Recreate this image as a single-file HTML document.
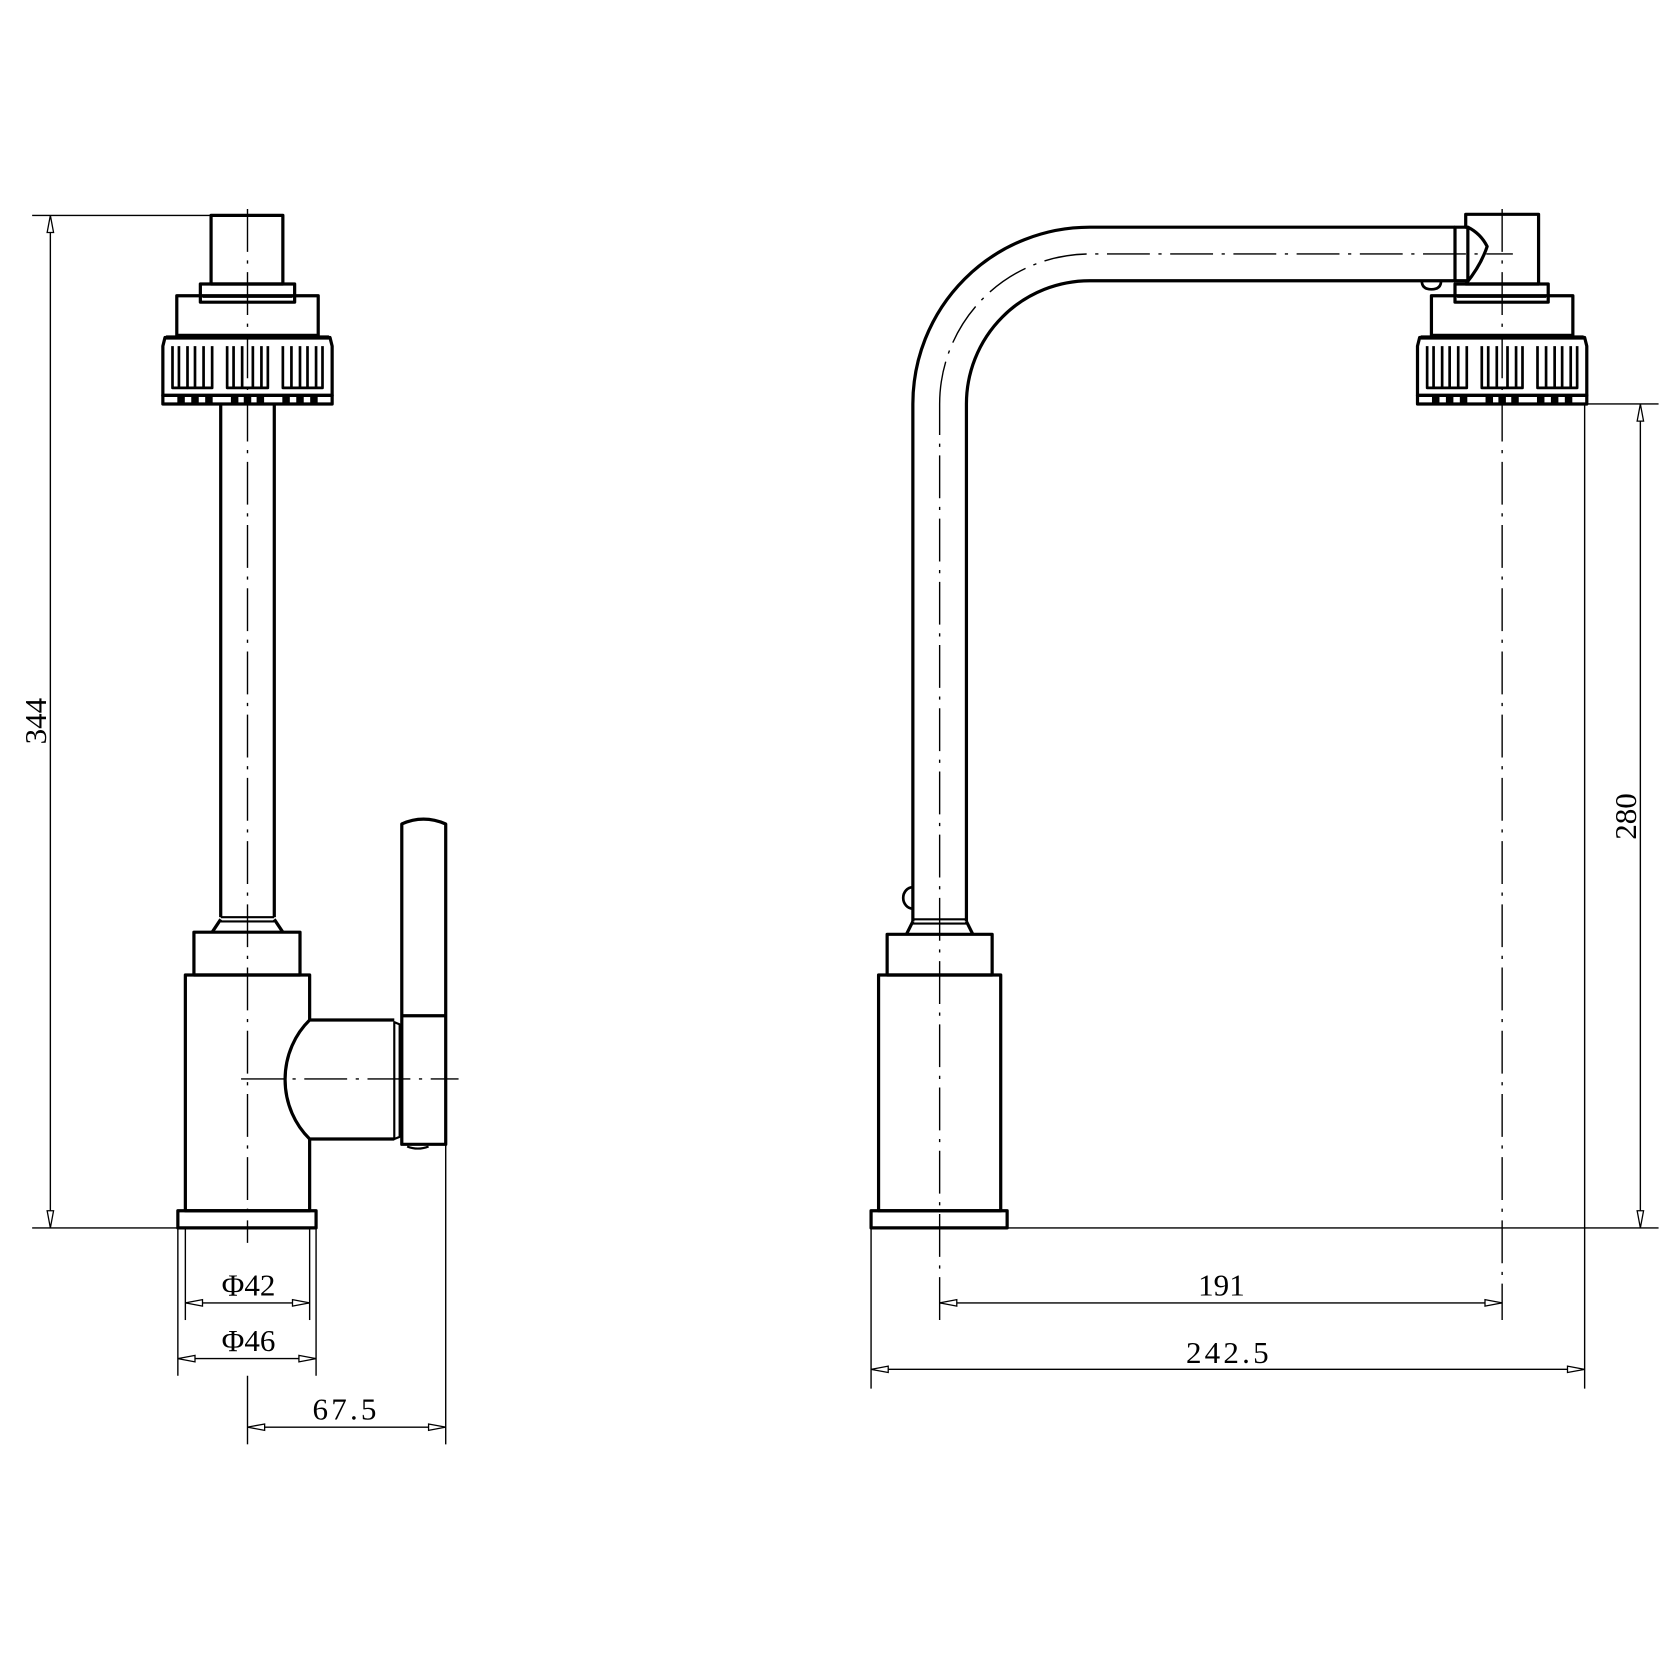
<!DOCTYPE html>
<html><head><meta charset="utf-8"><style>html,body{margin:0;padding:0;background:#fff}svg{display:block}</style></head>
<body>
<svg width="1680" height="1679" viewBox="0 0 1568 1567" xmlns="http://www.w3.org/2000/svg">
<defs>
<g id="nut">
 <path d="M-66,-94 L66,-94 L66,-57 L-66,-57 Z" fill="none" stroke="#000" stroke-width="3"/>
 <path d="M-76,-55 L76,-55" stroke="#000" stroke-width="4"/>
 <path d="M-79,-47 L-77,-55 L77,-55 L79,-47 L79,-1 L-79,-1 Z" fill="none" stroke="#000" stroke-width="3"/>
 <rect x="-79" y="-1" width="158" height="8" fill="none" stroke="#000" stroke-width="3"/>
 <g fill="#000"><rect x="-64" y="0" width="4" height="6"/><rect x="-51" y="0" width="4" height="6"/><rect x="-38" y="0" width="4" height="6"/><rect x="-14" y="0" width="4" height="6"/><rect x="-2" y="0" width="4" height="6"/><rect x="10" y="0" width="4" height="6"/><rect x="34" y="0" width="4" height="6"/><rect x="47" y="0" width="4" height="6"/><rect x="60" y="0" width="4" height="6"/></g>
 <g fill="none" stroke="#000" stroke-width="2.5">
  <path d="M-70,-47 V-8 H-33 V-47 M-64,-47 V-8 M-56,-47 V-8 M-49,-47 V-8 M-41,-47 V-8"/>
  <path d="M-19,-47 V-8 H19 V-47 M-13,-47 V-8 M-5,-47 V-8 M5,-47 V-8 M13,-47 V-8"/>
  <path d="M33,-47 V-8 H70 V-47 M41,-47 V-8 M49,-47 V-8 M56,-47 V-8 M64,-47 V-8"/>
 </g>
</g>
</defs>
<g fill="none" stroke="#000" stroke-width="3" stroke-linejoin="round">
 <!-- LEFT VIEW -->
 <rect x="197" y="201" width="67" height="64"/>
 <rect x="187" y="265" width="88" height="17"/>
 <line x1="189" y1="277" x2="273" y2="277" stroke-width="2"/>
 <use href="#nut" x="231" y="370"/>
 <path d="M206,377 V856 M256,377 V856"/>
 <path d="M206,856 H256 M206,860 H256" stroke-width="2"/>
 <path d="M206,858 L198,870 M256,858 L264,870"/>
 <rect x="181" y="870" width="99" height="40"/>
 <path d="M289,952 V910 H173 V1130 H289 V1063"/>
 <rect x="166" y="1130" width="129" height="16"/>
 <path d="M368,952 H289 A70,75 0 0 0 289,1063 H368"/>
 <path d="M368,954 L373,956 V1061 L368,1063 Z" stroke-width="2"/>
 <path d="M375,769 Q395,760 416,769 V1068 H375 Z"/>
 <line x1="376" y1="948" x2="416" y2="948"/>
 <path d="M380,1070 Q390,1074 400,1070" stroke-width="2"/>
 <!-- RIGHT VIEW -->
 <rect x="813" y="1130" width="127" height="16"/>
 <rect x="820" y="910" width="114" height="220"/>
 <rect x="828" y="872" width="98" height="38"/>
 <path d="M852,858 H902 M852,862 H902" stroke-width="2"/>
 <path d="M852,860 L846,872 M902,860 L908,872"/>
 <path d="M852,860 V377 A165,165 0 0 1 1017,212 H1358"/>
 <path d="M902,860 V377 A115,115 0 0 1 1017,262 H1358"/>
 <path d="M852,828 A9,10 0 0 0 852,848" stroke-width="2.5"/>
 <rect x="1358" y="212" width="12" height="50"/>
 <path d="M1370,212 H1368 V200 H1436 V265 H1368 Q1382,248 1388,230 Q1382,218 1370,212" />
 <path d="M1327,262 Q1327,270 1336,270 Q1345,270 1345,262" stroke-width="2.5"/>
 <rect x="1358" y="265" width="87" height="17"/>
 <line x1="1360" y1="277" x2="1443" y2="277" stroke-width="2"/>
 <use href="#nut" x="1402" y="370"/>
</g>
<!-- centerlines -->
<g stroke="#000" stroke-width="1.3" fill="none" stroke-dasharray="40,8,3,8">
 <line x1="231" y1="195" x2="231" y2="1160"/>
 <line x1="225" y1="1007" x2="428" y2="1007"/>
 <line x1="877" y1="1232" x2="877" y2="377"/>
 <path d="M877,377 A140,140 0 0 1 1017,237 H1412"/>
 <line x1="1402" y1="195" x2="1402" y2="1232"/>
</g>
<!-- dimension lines -->
<g stroke="#000" stroke-width="1.3" fill="none">
 <line x1="30" y1="201" x2="197" y2="201"/>
 <line x1="30" y1="1146" x2="166" y2="1146"/>
 <line x1="47" y1="201" x2="47" y2="1146"/>
 <line x1="173" y1="1146" x2="173" y2="1232"/>
 <line x1="289" y1="1146" x2="289" y2="1232"/>
 <line x1="166" y1="1146" x2="166" y2="1284"/>
 <line x1="295" y1="1146" x2="295" y2="1284"/>
 <line x1="173" y1="1216" x2="289" y2="1216"/>
 <line x1="166" y1="1268" x2="295" y2="1268"/>
 <line x1="231" y1="1284" x2="231" y2="1348"/>
 <line x1="416" y1="1068" x2="416" y2="1348"/>
 <line x1="231" y1="1332" x2="416" y2="1332"/>
 <line x1="940" y1="1146" x2="1548" y2="1146"/>
 <line x1="1479" y1="377" x2="1548" y2="377"/>
 <line x1="1531" y1="377" x2="1531" y2="1146"/>
 <line x1="877" y1="1216" x2="1402" y2="1216"/>
 <line x1="813" y1="1146" x2="813" y2="1296"/>
 <line x1="1479" y1="377" x2="1479" y2="1296"/>
 <line x1="813" y1="1278" x2="1479" y2="1278"/>
</g>
<g fill="#fff" stroke="#000" stroke-width="1.2">
 <path d="M47,201 L44,217 L50,217 Z"/><path d="M47,1146 L44,1130 L50,1130 Z"/>
 <path d="M173,1216 L189,1213 L189,1219 Z"/><path d="M289,1216 L273,1213 L273,1219 Z"/>
 <path d="M166,1268 L182,1265 L182,1271 Z"/><path d="M295,1268 L279,1265 L279,1271 Z"/>
 <path d="M231,1332 L247,1329 L247,1335 Z"/><path d="M416,1332 L400,1329 L400,1335 Z"/>
 <path d="M1531,377 L1528,393 L1534,393 Z"/><path d="M1531,1146 L1528,1130 L1534,1130 Z"/>
 <path d="M877,1216 L893,1213 L893,1219 Z"/><path d="M1402,1216 L1386,1213 L1386,1219 Z"/>
 <path d="M813,1278 L829,1275 L829,1281 Z"/><path d="M1479,1278 L1463,1275 L1463,1281 Z"/>
</g>
<g font-family="'Liberation Serif',serif" font-size="29" fill="#000" text-anchor="middle">
 <text x="232" y="1209">Φ42</text>
 <text x="232" y="1261">Φ46</text>
 <text x="323" y="1325" letter-spacing="3">67.5</text>
 <text x="1140" y="1209">191</text>
 <text x="1147" y="1272" letter-spacing="3">242.5</text>
 <text transform="translate(43,673) rotate(-90)">344</text>
 <text transform="translate(1527,762) rotate(-90)">280</text>
</g>
</svg>
</body></html>
